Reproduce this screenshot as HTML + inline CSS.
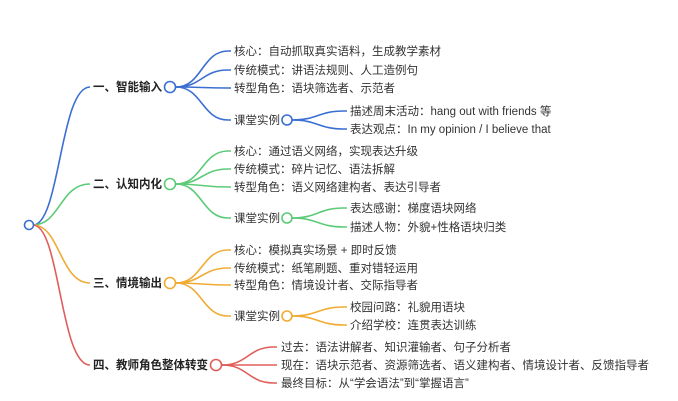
<!DOCTYPE html>
<html><head><meta charset="utf-8"><style>
html,body{margin:0;padding:0;background:#fff;}
svg{display:block;}
text{font-family:"Liberation Sans","Noto Sans CJK SC",sans-serif;font-size:11.5px;fill:#333;}
.b{font-weight:bold;font-size:11.7px;fill:#222;}
path{fill:none;stroke-width:1.6;}
circle{fill:#fff;stroke-width:1.6;}
</style></head><body>
<svg width="678" height="401" viewBox="0 0 678 401">
<path stroke="#3a6fd2" d="M33 225 C60 225,60 87,90 87"/>
<path stroke="#5ccb78" d="M33 225 C60 225,60 184,90 184"/>
<path stroke="#f0ab33" d="M33 225 C60 225,60 283,90 283"/>
<path stroke="#df5e5a" d="M33 225 C60 225,60 365,90 365"/>
<circle cx="29" cy="225" r="4.5" stroke="#3a6fd2"/>

<text class="b" x="93" y="91" textLength="69" lengthAdjust="spacingAndGlyphs">一、智能输入</text>
<g stroke="#3a6fd2">
<path d="M176 87 C202 87,202 51,228 51 L231 51"/>
<path d="M176 87 C202 87,202 70,228 70 L231 70"/>
<path d="M176 87 C202 87,202 88,228 88 L231 88"/>
<path d="M176 87 C202 87,202 120,228 120 L231 120"/>
<path d="M292 120 C318 120,318 111,344 111 L347 111"/>
<path d="M292 120 C318 120,318 129,344 129 L347 129"/>
</g>
<circle cx="170" cy="87" r="5.5" stroke="#3a6fd2"/>
<circle cx="287" cy="120" r="5" stroke="#3a6fd2"/>
<text x="234" y="55">核心：自动抓取真实语料，生成教学素材</text>
<text x="234" y="74">传统模式：讲语法规则、人工造例句</text>
<text x="234" y="92">转型角色：语块筛选者、示范者</text>
<text x="234" y="124">课堂实例</text>
<text x="350" y="115">描述周末活动：hang out with friends 等</text>
<text x="350" y="133">表达观点：In my opinion / I believe that</text>

<text class="b" x="93" y="188" textLength="69" lengthAdjust="spacingAndGlyphs">二、认知内化</text>
<g stroke="#5ccb78">
<path d="M176 184 C202 184,202 151,228 151 L231 151"/>
<path d="M176 184 C202 184,202 169,228 169 L231 169"/>
<path d="M176 184 C202 184,202 187,228 187 L231 187"/>
<path d="M176 184 C202 184,202 218,228 218 L231 218"/>
<path d="M292 218 C318 218,318 208,344 208 L347 208"/>
<path d="M292 218 C318 218,318 227,344 227 L347 227"/>
</g>
<circle cx="170" cy="184" r="5.5" stroke="#5ccb78"/>
<circle cx="287" cy="218" r="5" stroke="#5ccb78"/>
<text x="234" y="155">核心：通过语义网络，实现表达升级</text>
<text x="234" y="173">传统模式：碎片记忆、语法拆解</text>
<text x="234" y="191">转型角色：语义网络建构者、表达引导者</text>
<text x="234" y="222">课堂实例</text>
<text x="350" y="212">表达感谢：梯度语块网络</text>
<text x="350" y="231">描述人物：外貌+性格语块归类</text>

<text class="b" x="93" y="287" textLength="69" lengthAdjust="spacingAndGlyphs">三、情境输出</text>
<g stroke="#f0ab33">
<path d="M176 283 C202 283,202 250,228 250 L231 250"/>
<path d="M176 283 C202 283,202 268,228 268 L231 268"/>
<path d="M176 283 C202 283,202 285,228 285 L231 285"/>
<path d="M176 283 C202 283,202 316,228 316 L231 316"/>
<path d="M292 316 C318 316,318 307,344 307 L347 307"/>
<path d="M292 316 C318 316,318 325,344 325 L347 325"/>
</g>
<circle cx="170" cy="283" r="5.5" stroke="#f0ab33"/>
<circle cx="287" cy="316" r="5" stroke="#f0ab33"/>
<text x="234" y="254">核心：模拟真实场景 + 即时反馈</text>
<text x="234" y="272">传统模式：纸笔刷题、重对错轻运用</text>
<text x="234" y="289">转型角色：情境设计者、交际指导者</text>
<text x="234" y="320">课堂实例</text>
<text x="350" y="311">校园问路：礼貌用语块</text>
<text x="350" y="329">介绍学校：连贯表达训练</text>

<text class="b" x="93" y="369" textLength="115" lengthAdjust="spacingAndGlyphs">四、教师角色整体转变</text>
<g stroke="#df5e5a">
<path d="M222 365 C248 365,248 347,274 347 L277 347"/>
<path d="M222 365 C248 365,248 365,274 365 L277 365"/>
<path d="M222 365 C248 365,248 383,274 383 L277 383"/>
</g>
<circle cx="216" cy="365" r="5.5" stroke="#df5e5a"/>
<text x="281" y="351">过去：语法讲解者、知识灌输者、句子分析者</text>
<text x="281" y="369">现在：语块示范者、资源筛选者、语义建构者、情境设计者、反馈指导者</text>
<text x="281" y="387">最终目标：从“学会语法”到“掌握语言”</text>
</svg>
</body></html>
